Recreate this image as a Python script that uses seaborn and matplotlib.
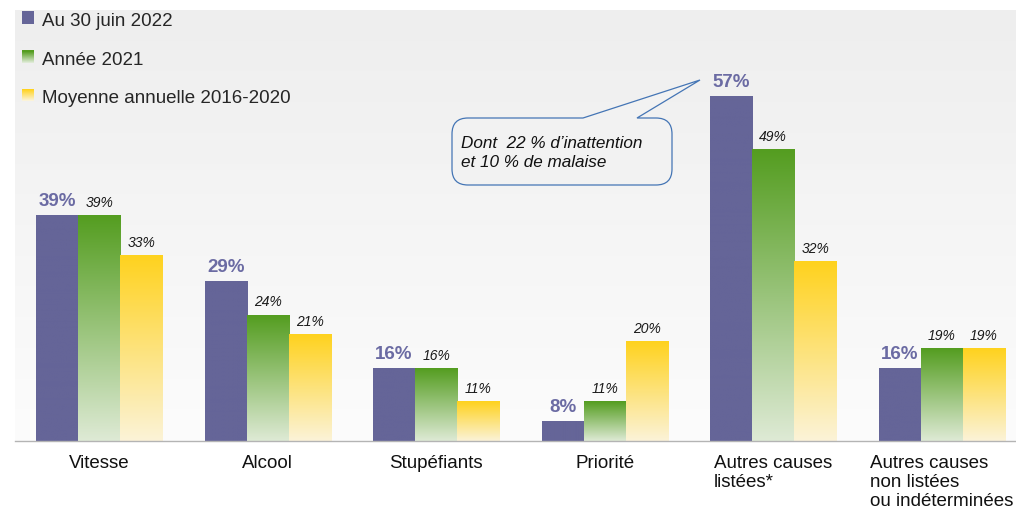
import numpy as np
import pandas as pd
import matplotlib
matplotlib.use("Agg")
import matplotlib.pyplot as plt
import seaborn as sns
from matplotlib.colors import to_rgba
from matplotlib.patches import Rectangle, PathPatch
from matplotlib.path import Path
from matplotlib.legend_handler import HandlerBase

# ---------------- data ----------------
categories = ["Vitesse", "Alcool", "Stupéfiants", "Priorité",
              "Autres causes\nlistées*",
              "Autres causes\nnon listées\nou indéterminées"]
series_names = ["Au 30 juin 2022", "Année 2021", "Moyenne annuelle 2016-2020"]
v_2022 = [39, 29, 16, 8, 57, 16]
v_2021 = [39, 24, 16, 11, 49, 19]
v_moy = [33, 21, 11, 20, 32, 19]
callout_text = "Dont  22 % d’inattention\net 10 % de malaise"

df = pd.DataFrame({
    "cause": categories * 3,
    "serie": sum([[s] * len(categories) for s in series_names], []),
    "value": v_2022 + v_2021 + v_moy,
})

# ---------------- style ----------------
sns.set_style("white")
plt.rcParams["font.family"] = ["Liberation Sans", "DejaVu Sans"]

purple = "#656598"
grads = [
    (purple, purple),
    ("#549D20", "#DEEAD5"),
    ("#FFD21E", "#FBF3D8"),
]
label_purple = "#6B6BA3"

fig = plt.figure(figsize=(10.16, 5.11), dpi=100)
ax = fig.add_axes([15 / 1016, 70 / 511, 1011 / 1016, 431 / 511])

sns.barplot(data=df, x="cause", y="value", hue="serie", hue_order=series_names,
            order=categories, palette=[g[0] for g in grads], saturation=1,
            width=0.75, ax=ax, legend=False, errorbar=None)

YMIN, YMAX = 5, 70

# background gradient
bg = np.linspace(0, 1, 256)[:, None]
c_top = np.array(to_rgba("#EEEEEE"))
c_bot = np.array(to_rgba("#FCFCFC"))
bg_img = c_top[None, None, :] * (1 - bg[:, :, None]) + c_bot[None, None, :] * bg[:, :, None]
ax.imshow(bg_img, extent=[0, 1, 0, 1], transform=ax.transAxes, aspect="auto",
          zorder=0, origin="upper")

# gradient bars + labels
for i, cont in enumerate(ax.containers):
    top_c = np.array(to_rgba(grads[i][0]))
    bot_c = np.array(to_rgba(grads[i][1]))
    for rect in cont:
        x, w, h = rect.get_x(), rect.get_width(), rect.get_height()
        y0 = max(rect.get_y(), YMIN)
        t = np.linspace(0, 1, 200)[:, None, None]
        img = top_c[None, None, :] * (1 - t) + bot_c[None, None, :] * t
        ax.imshow(img, extent=[x, x + w, y0, h], aspect="auto", origin="upper",
                  zorder=2, interpolation="bilinear")
        rect.set_facecolor("none")
        rect.set_edgecolor("none")
    vals = [v_2022, v_2021, v_moy][i]
    labels = [f"{v}%" for v in vals]
    if i == 0:
        ax.bar_label(cont, labels=labels, padding=4, fontsize=13.5,
                     fontweight="bold", color=label_purple, zorder=5)
    else:
        ax.bar_label(cont, labels=labels, padding=4, fontsize=10,
                     fontstyle="italic", color="#1a1a1a", zorder=5)

ax.set_xlim(-0.5, len(categories) - 0.5)
ax.set_ylim(YMIN, YMAX)
ax.set_xlabel("")
ax.set_ylabel("")
ax.set_yticks([])

# axis style
for s in ["top", "right", "left"]:
    ax.spines[s].set_visible(False)
ax.spines["bottom"].set_color("#B4B4B4")
ax.spines["bottom"].set_linewidth(1.0)
ax.spines["bottom"].set_zorder(6)
ax.set_xticks(np.arange(-0.5, len(categories), 1), minor=True)
ax.tick_params(axis="x", which="minor", length=6, color="#B4B4B4", width=1)
ax.tick_params(axis="x", which="major", length=0, pad=10, labelsize=13.5,
               labelcolor="#111111")
for lbl in ax.get_xticklabels():
    lbl.set_multialignment("left")
    lbl.set_linespacing(1.17)


# legend with gradient squares
class GradHandle:
    def __init__(self, c1, c2):
        self.c1, self.c2 = c1, c2


class GradHandler(HandlerBase):
    def create_artists(self, legend, orig, xdescent, ydescent, width, height,
                       fontsize, trans):
        n = 12
        size = 12 * 0.72  # ~12 px square in points
        x0 = -xdescent + (width - size) / 2
        y0 = -ydescent + (height - size) / 2 + 1.0
        c1 = np.array(to_rgba(orig.c1))
        c2 = np.array(to_rgba(orig.c2))
        arts = []
        for k in range(n):
            f = k / (n - 1)
            col = c2 * (1 - f) + c1 * f
            r = Rectangle((x0, y0 + size * k / n), size, size / n + 0.3,
                          facecolor=col, edgecolor="none", transform=trans)
            arts.append(r)
        return arts


handles = [GradHandle(g[0], g[1]) for g in grads]
leg = ax.legend(handles, series_names, handler_map={GradHandle: GradHandler()},
                loc="upper left", bbox_to_anchor=(5 / 1011, 1.0), frameon=False,
                fontsize=13.5, handlelength=0.6, handleheight=0.6,
                handletextpad=0.45, labelspacing=1.16, borderaxespad=0.0,
                borderpad=0.15)
leg.set_zorder(10)


# callout
def px(xp, yp):
    return ((xp - 15) / 1011, (441 - yp) / 431)


L, R, T, B, r = 452, 672, 118, 185, 16
a, b, tip = 583, 637, (700, 80)
verts_px = [
    (L + r, T), (a, T), tip, (b, T), (R - r, T),
    (R, T), (R, T + r),
    (R, B - r),
    (R, B), (R - r, B),
    (L + r, B),
    (L, B), (L, B - r),
    (L, T + r),
    (L, T), (L + r, T),
    (L + r, T),
]
codes = [Path.MOVETO, Path.LINETO, Path.LINETO, Path.LINETO, Path.LINETO,
         Path.CURVE3, Path.CURVE3,
         Path.LINETO,
         Path.CURVE3, Path.CURVE3,
         Path.LINETO,
         Path.CURVE3, Path.CURVE3,
         Path.LINETO,
         Path.CURVE3, Path.CURVE3,
         Path.CLOSEPOLY]
verts = [px(*v) for v in verts_px]
patch = PathPatch(Path(verts, codes), facecolor="#F2F2F2", edgecolor="#4475B5",
                  linewidth=0.9, transform=ax.transAxes, zorder=7, clip_on=False)
ax.add_patch(patch)
tx, ty = px(461, 153)
ax.text(tx, ty, callout_text, transform=ax.transAxes, ha="left", va="center",
        fontsize=12.3, fontstyle="italic", color="#111111", linespacing=1.3,
        zorder=8)

fig.savefig("out.png", dpi=100, facecolor="white")
